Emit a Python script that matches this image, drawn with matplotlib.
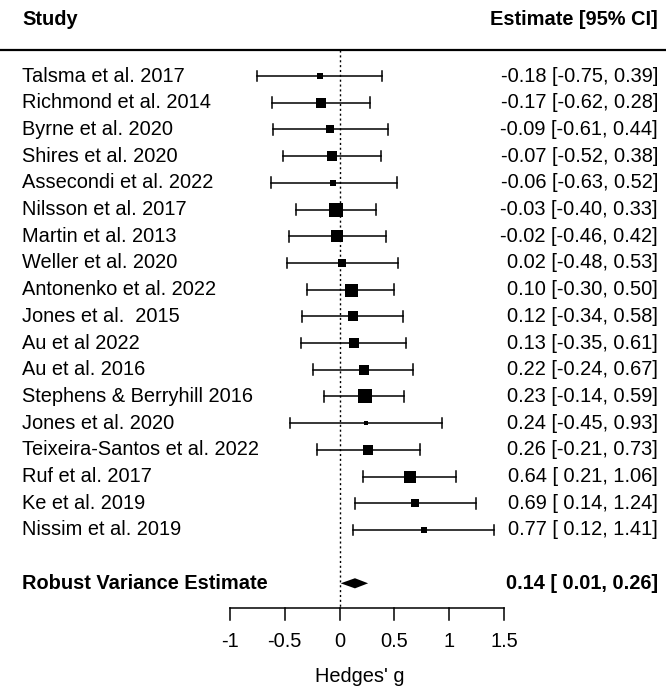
import matplotlib
matplotlib.use("Agg")
import matplotlib.pyplot as plt

plt.rcParams['font.family'] = ['Liberation Sans', 'DejaVu Sans']

# study data (Hedges' g with 95% CI)
studies = ["Talsma et al. 2017", "Richmond et al. 2014", "Byrne et al. 2020",
           "Shires et al. 2020", "Assecondi et al. 2022", "Nilsson et al. 2017",
           "Martin et al. 2013", "Weller et al. 2020", "Antonenko et al. 2022",
           "Jones et al.  2015", "Au et al 2022", "Au et al. 2016",
           "Stephens & Berryhill 2016", "Jones et al. 2020",
           "Teixeira-Santos et al. 2022", "Ruf et al. 2017", "Ke et al. 2019",
           "Nissim et al. 2019"]
est = [-0.18, -0.17, -0.09, -0.07, -0.06, -0.03, -0.02, 0.02, 0.10,
       0.12, 0.13, 0.22, 0.23, 0.24, 0.26, 0.64, 0.69, 0.77]
lower = [-0.75, -0.62, -0.61, -0.52, -0.63, -0.40, -0.46, -0.48, -0.30,
         -0.34, -0.35, -0.24, -0.14, -0.45, -0.21, 0.21, 0.14, 0.12]
upper = [0.39, 0.28, 0.44, 0.38, 0.52, 0.33, 0.42, 0.53, 0.50,
         0.58, 0.61, 0.67, 0.59, 0.93, 0.73, 1.06, 1.24, 1.41]
# relative weights (square size)
weights = [6, 9.5, 7.3, 9.3, 6, 12.7, 10, 7.3, 11.7,
           9, 8.7, 9.3, 12.7, 4, 8.7, 10.7, 6.7, 5.3]

summary_label = "Robust Variance Estimate"
summary_est = 0.14
summary_lo = 0.01
summary_hi = 0.26

xticks = [-1, -0.5, 0, 0.5, 1, 1.5]
xticklabels = ["-1", "-0.5", "0", "0.5", "1", "1.5"]


def ci_text(e, lo, hi):
    # lower bound padded like R does when the column has negatives
    los = "%.2f" % lo
    if lo >= 0:
        los = " " + los
    return "%.2f [%s, %.2f]" % (e, los, hi)


fig = plt.figure(figsize=(6.66, 6.87), dpi=100)
ax = fig.add_axes([0, 0, 1, 1])
ax.axis("off")

# pixel mapping: x = 339.6 + 109.6*g ; row y = 76 + 26.7*i
xl = -339.6 / 109.6
xr = (666 - 339.6) / 109.6
yt = -76 / 26.7
yb = (687 - 76) / 26.7
ax.set_xlim(xl, xr)
ax.set_ylim(yb, yt)

fs = 14.4
xtext_l = (22 - 339.6) / 109.6
xtext_r = (658 - 339.6) / 109.6
cap = 0.2

for i in range(len(studies)):
    ax.plot([lower[i], upper[i]], [i, i], color="black", lw=1.1)
    ax.plot([lower[i], lower[i]], [i - cap, i + cap], color="black", lw=1.1)
    ax.plot([upper[i], upper[i]], [i - cap, i + cap], color="black", lw=1.1)
    ax.plot(est[i], i, marker="s", color="black", markersize=weights[i] * 0.8,
            markeredgewidth=0)
    ax.text(xtext_l, i, studies[i], ha="left", va="center", fontsize=fs)
    ax.text(xtext_r, i, ci_text(est[i], lower[i], upper[i]), ha="right",
            va="center", fontsize=fs)

# summary diamond
ys = len(studies) + 1
ax.fill([summary_lo, summary_est, summary_hi, summary_est],
        [ys, ys - 0.19, ys, ys + 0.19], color="black", lw=0)
ax.text(xtext_l, ys, summary_label, ha="left", va="center", fontsize=fs,
        fontweight="bold")
ax.text(xtext_r, ys, ci_text(summary_est, summary_lo, summary_hi), ha="right",
        va="center", fontsize=fs, fontweight="bold")

# headers
yhead = (19 - 76) / 26.7
ax.text(xtext_l, yhead, "Study", ha="left", va="center", fontsize=fs,
        fontweight="bold")
ax.text(xtext_r, yhead, "Estimate [95% CI]", ha="right", va="center",
        fontsize=fs, fontweight="bold")
yline = (49.5 - 76) / 26.7
ax.plot([xl, xr], [yline, yline], color="black", lw=1.6)

# reference line
yaxis = (608 - 76) / 26.7
ax.plot([0, 0], [yline, yaxis], color="black", lw=1.0, ls=(0, (1.5, 2)))

# x axis
ytick = (620 - 76) / 26.7
ax.plot([xticks[0], xticks[-1]], [yaxis, yaxis], color="black", lw=1.1)
ylab = (641 - 76) / 26.7
for t, lab in zip(xticks, xticklabels):
    ax.plot([t, t], [yaxis, ytick], color="black", lw=1.1)
    ax.text(t, ylab, lab, ha="center", va="center", fontsize=fs)

yx = (682 - 76) / 26.7
ax.text((360 - 339.6) / 109.6, yx, "Hedges' g", ha="center", va="baseline",
        fontsize=fs)

fig.savefig("out.png", dpi=100)
